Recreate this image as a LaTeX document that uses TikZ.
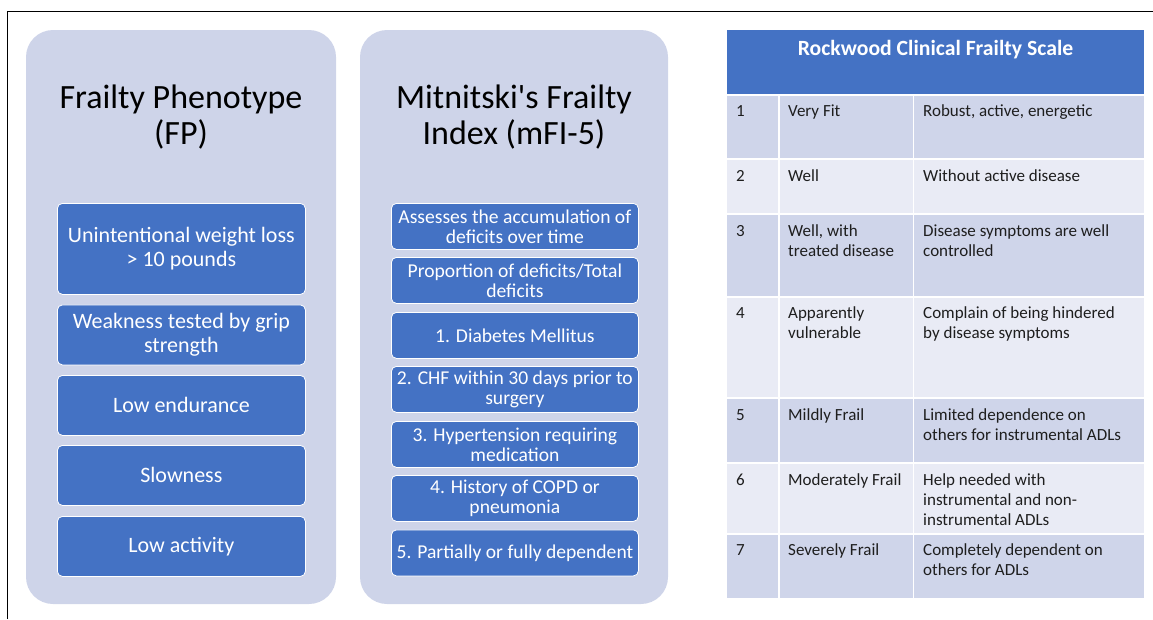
\documentclass[tikz,border=0pt]{standalone}
\usepackage{fontspec}
\setmainfont{Carlito}[Ligatures=TeXOff]
\definecolor{panelbg}{RGB}{206,212,233}
\definecolor{boxblue}{RGB}{68,114,196}
\definecolor{rowdark}{RGB}{207,213,234}
\definecolor{rowlight}{RGB}{233,235,245}
\definecolor{ink}{RGB}{30,30,30}
% cell text whose baseline is that of its first line
\newcommand{\celltext}[1]{\begin{tabular}[t]{@{}l@{}}#1\end{tabular}}
\tikzset{
  panel/.style={fill=panelbg, draw=none, rounded corners=27pt},
  itembox/.style={fill=boxblue, draw=white, line width=0.8pt, rounded corners=5pt,
    anchor=north west, text=white, align=center, inner sep=2pt},
  fpbox/.style={itembox, minimum width=248pt, font=\fontsize{22}{24}\selectfont},
  mfbox/.style={itembox, minimum width=247pt, minimum height=46pt, font=\fontsize{19.6}{20}\selectfont},
  ptitle/.style={anchor=base, align=center, text=black, font=\fontsize{34}{36}\selectfont},
  cell/.style={anchor=base west, inner sep=0pt, text=ink, font=\fontsize{17}{20}\selectfont},
  sepline/.style={draw=white, line width=1.6pt}
}
\begin{document}
\begin{tikzpicture}[x=1pt, y=-1pt]
  \useasboundingbox (0,0) rectangle (1153,619);
  % frame edges
  \draw[black, line width=1pt] (7.5,619) -- (7.5,11.5) -- (1153,11.5);

  % ---------- Frailty Phenotype ----------
  \fill[panel] (26,30) rectangle (336,604);
  \node[ptitle] (fpt) at (181,144) {Frailty Phenotype\\(FP)};
  \node[fpbox, minimum height=91pt] (fp1) at (57,203) {Unintentional weight loss\\> 10 pounds};
  \node[fpbox, minimum height=60pt] (fp2) at (57,304.5) {Weakness tested by grip\\strength};
  \node[fpbox, minimum height=60pt] (fp3) at (57,375) {Low endurance};
  \node[fpbox, minimum height=60pt] (fp4) at (57,445) {Slowness};
  \node[fpbox, minimum height=60pt] (fp5) at (57,516) {Low activity};

  % ---------- Mitnitski's Frailty Index ----------
  \fill[panel] (360,30) rectangle (668,604);
  \node[ptitle] (mft) at (514,144) {Mitnitski's Frailty\\Index (mFI-5)};
  \node[mfbox] (mf1) at (391,203) {Assesses the accumulation of\\deficits over time};
  \node[mfbox] (mf2) at (391,257) {Proportion of deficits/Total\\deficits};
  \node[mfbox] (mf3) at (391,312) {1. Diabetes Mellitus};
  \node[mfbox] (mf4) at (391,366) {2. CHF within 30 days prior to\\surgery};
  \node[mfbox] (mf5) at (391,421) {3. Hypertension requiring\\medication};
  \node[mfbox] (mf6) at (391,475) {4. History of COPD or\\pneumonia};
  \node[mfbox] (mf7) at (391,529.5) {5. Partially or fully dependent};

  % ---------- Rockwood Clinical Frailty Scale ----------
  \fill[boxblue] (727,30) rectangle (1144,93.5);
  \node[anchor=base, text=white, font=\bfseries\fontsize{21.7}{24}\selectfont] (rkt) at (935.5,55) {Rockwood Clinical Frailty Scale};

  \fill[rowdark]  (727,96)  rectangle (1144,159);
  \fill[rowlight] (727,159) rectangle (1144,214);
  \fill[rowdark]  (727,214) rectangle (1144,297);
  \fill[rowlight] (727,297) rectangle (1144,398);
  \fill[rowdark]  (727,398) rectangle (1144,463);
  \fill[rowlight] (727,463) rectangle (1144,534);
  \fill[rowdark]  (727,534) rectangle (1144,598);
  \foreach \yy in {159,214,297,398,463,534}
    \draw[sepline] (727,\yy) -- (1144,\yy);
  \draw[sepline] (779,96) -- (779,598);
  \draw[sepline] (913.5,96) -- (913.5,598);

  \node[cell] (n1) at (736,116) {1};
  \node[cell] (c1) at (788,116) {Very Fit};
  \node[cell] (d1) at (923,116) {Robust, active, energetic};

  \node[cell] (n2) at (736,181) {2};
  \node[cell] (c2) at (788,181) {Well};
  \node[cell] (d2) at (923,181) {Without active disease};

  \node[cell] (n3) at (736,236) {3};
  \node[cell] (c3) at (788,236) {\celltext{Well, with\\treated disease}};
  \node[cell] (d3) at (923,236) {\celltext{Disease symptoms are well\\controlled}};

  \node[cell] (n4) at (736,318) {4};
  \node[cell] (c4) at (788,318) {\celltext{Apparently\\vulnerable}};
  \node[cell] (d4) at (923,318) {\celltext{Complain of being hindered\\by disease symptoms}};

  \node[cell] (n5) at (736,420) {5};
  \node[cell] (c5) at (788,420) {Mildly Frail};
  \node[cell] (d5) at (923,420) {\celltext{Limited dependence on\\others for instrumental ADLs}};

  \node[cell] (n6) at (736,485) {6};
  \node[cell] (c6) at (788,485) {Moderately Frail};
  \node[cell] (d6) at (923,485) {\celltext{Help needed with\\instrumental and non-\\instrumental ADLs}};

  \node[cell] (n7) at (736,555) {7};
  \node[cell] (c7) at (788,555) {Severely Frail};
  \node[cell] (d7) at (923,555) {\celltext{Completely dependent on\\others for ADLs}};
\end{tikzpicture}
\end{document}
